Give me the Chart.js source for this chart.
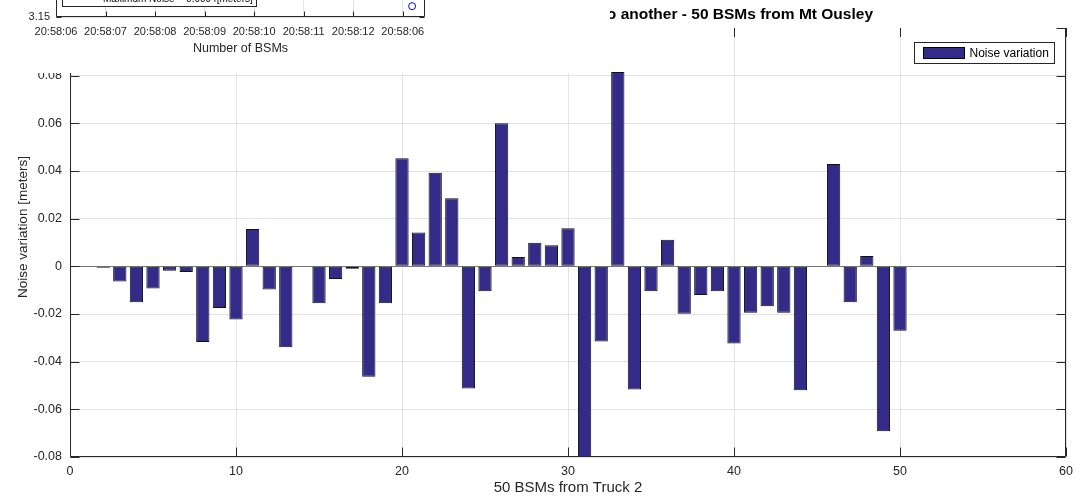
<!DOCTYPE html>
<html>
<head>
<meta charset="utf-8">
<script src="https://cdn.jsdelivr.net/npm/chart.js@4.4.1/dist/chart.umd.min.js"></script>
<style>
  html, body { margin: 0; padding: 0; background: #fff; }
  #wrap { position: relative; width: 1084px; height: 497px; }
  #inset { position: absolute; left: 0; top: 0; width: 610px; height: 73px; overflow: hidden; background: #fff; }
  #c2 { position: absolute; left: 0; top: -226px; }
</style>
</head>
<body>
<div id="wrap">
  <canvas id="c1" width="1084" height="497"></canvas>
  <div id="inset"><canvas id="c2" width="610" height="300"></canvas></div>
</div>
<script>
// main chart data
const bsmIndex = [2, 3, 4, 5, 6, 7, 8, 9, 10, 11, 12, 13, 14, 15, 16, 17, 18, 19, 20, 21, 22, 23, 24, 25, 26,
  27, 28, 29, 30, 31, 32, 33, 34, 35, 36, 37, 38, 39, 40, 41, 42, 43, 44, 45, 46, 47, 48, 49, 50];
const noiseVariation = [-0.0006, -0.0064, -0.0151, -0.0093, -0.0019, -0.0024, -0.0317, -0.0175, -0.0223, 0.0157,
  -0.0097, -0.0340, 0, -0.0155, -0.0053, -0.0010, -0.0463, -0.0155, 0.0454, 0.0142,
  0.0393, 0.0286, -0.0513, -0.0105, 0.0600, 0.0039, 0.0099, 0.0088, 0.0160, -0.0800,
  -0.0315, 0.0815, -0.0517, -0.0105, 0.0112, -0.0199, -0.0120, -0.0105, -0.0324, -0.0195,
  -0.0168, -0.0195, -0.0520, 0, 0.0429, -0.0151, 0.0043, -0.0692, -0.0270];

// the window overlapping the top left corner
const insetTimes = ['20:58:06', '20:58:07', '20:58:08', '20:58:09', '20:58:10', '20:58:11', '20:58:12', '20:58:06'];
const insetX = [7.19];
const insetY = [3.1547];

const FONT = 'Helvetica, Arial, "Liberation Sans", sans-serif';
const AXIS = '#262626';
const GRID = '#e3e3e3';
const BAR = '#342a87';

Chart.defaults.font.family = FONT;
Chart.defaults.color = AXIS;

// box lines + inward ticks, matlab style
const boxAxes = {
  id: 'boxAxes',
  afterDatasetsDraw(chart, args, o) {
    const { ctx, chartArea: a, scales: { x, y } } = chart;
    const len = o.tick;
    ctx.save();
    ctx.strokeStyle = AXIS;
    ctx.lineWidth = 1;
    ctx.beginPath();
    const L = Math.round(a.left) + 0.5, R = Math.round(a.right) - 0.5, B = Math.round(a.bottom) - 0.5;
    ctx.moveTo(L, a.top); ctx.lineTo(L, B); ctx.lineTo(R, B); ctx.lineTo(R, a.top);
    x.ticks.forEach(t => {
      const px = Math.round(x.getPixelForValue(t.value)) + 0.5;
      ctx.moveTo(px, B); ctx.lineTo(px, B - len);
      if (o.top) { ctx.moveTo(px, a.top); ctx.lineTo(px, a.top + len); }
    });
    y.ticks.forEach(t => {
      const py = Math.round(y.getPixelForValue(t.value)) + 0.5;
      ctx.moveTo(L, py); ctx.lineTo(L + len, py);
      ctx.moveTo(R, py); ctx.lineTo(R - len, py);
    });
    ctx.stroke();
    ctx.restore();
  }
};

const titleAndLegend = {
  id: 'titleAndLegend',
  afterDraw(chart) {
    const { ctx, chartArea: a } = chart;
    ctx.save();
    ctx.font = 'bold 15.5px ' + FONT;
    ctx.fillStyle = '#000';
    ctx.textAlign = 'right';
    ctx.textBaseline = 'middle';
    ctx.fillText('Noise variation of the position from one BSM to another - 50 BSMs from Mt Ousley', 873, 15);

    // y label, sits a bit above the axes centre in the original
    ctx.save();
    ctx.translate(23, 227);
    ctx.rotate(-Math.PI / 2);
    ctx.textAlign = 'center';
    ctx.font = '13.5px ' + FONT;
    ctx.fillStyle = AXIS;
    ctx.fillText('Noise variation [meters]', 0, 0);
    ctx.restore();

    // legend inside the axes, top right
    const bw = 140, bh = 21;
    const bx = Math.round(a.right - 12 - bw) + 0.5, by = Math.round(a.top + 14) + 0.5;
    ctx.fillStyle = '#fff';
    ctx.fillRect(bx, by, bw, bh);
    ctx.strokeStyle = AXIS;
    ctx.strokeRect(bx, by, bw, bh);
    ctx.fillStyle = BAR;
    ctx.fillRect(bx + 9, by + 5, 41, 11);
    ctx.strokeStyle = '#000';
    ctx.strokeRect(bx + 9, by + 5, 41, 11);
    ctx.font = '12px ' + FONT;
    ctx.fillStyle = '#000';
    ctx.textAlign = 'left';
    ctx.fillText(chart.data.datasets[0].label, bx + 55, by + bh / 2 + 0.5);
    ctx.restore();
  }
};

new Chart(document.getElementById('c1'), {
  type: 'bar',
  data: {
    datasets: [{
      label: 'Noise variation',
      data: bsmIndex.map((b, i) => ({ x: b, y: noiseVariation[i] })),
      backgroundColor: BAR,
      borderColor: '#111',
      borderWidth: 1,
      borderSkipped: false,
      barPercentage: 0.8,
      categoryPercentage: 1.0
    }]
  },
  options: {
    responsive: false,
    animation: false,
    devicePixelRatio: 1,
    layout: { padding: { left: 10, right: 18, top: 28, bottom: 0 } },
    plugins: { legend: { display: false }, tooltip: { enabled: false }, boxAxes: { tick: 9, top: true } },
    scales: {
      x: {
        type: 'linear', min: 0, max: 60, offset: false,
        grid: { color: GRID, drawTicks: false, offset: false },
        border: { display: false },
        ticks: { stepSize: 10, padding: 7, maxRotation: 0, color: AXIS, font: { size: 12.5 } },
        title: { display: true, text: '50 BSMs from Truck 2', color: AXIS, font: { size: 15 }, padding: { top: 0, bottom: 0 } },
        afterFit(s) { s.height = 40; }
      },
      y: {
        min: -0.08, max: 0.1,
        grid: {
          drawTicks: false,
          color: c => {
            if (!c.tick) return GRID;
            if (Math.abs(c.tick.value) < 1e-9) return '#767676';
            if (c.tick.value > 0.09) return 'rgba(0,0,0,0)';
            return GRID;
          }
        },
        border: { display: false },
        ticks: {
          stepSize: 0.02, padding: 8, color: AXIS, font: { size: 12.5 },
          callback: v => String(parseFloat(v.toFixed(2)))
        },
        afterFit(s) { s.width = 60; }
      }
    }
  },
  plugins: [boxAxes, titleAndLegend]
});

// overlapping figure: only its bottom strip shows
const insetLegend = {
  id: 'insetLegend',
  afterDraw(chart) {
    const { ctx } = chart;
    ctx.save();
    ctx.fillStyle = '#fff';
    ctx.fillRect(62.5, 189.5, 194, 43);
    ctx.strokeStyle = AXIS;
    ctx.strokeRect(62.5, 189.5, 194, 43);
    ctx.font = '10px ' + FONT;
    ctx.fillStyle = '#000';
    ctx.textAlign = 'left';
    ctx.textBaseline = 'alphabetic';
    ctx.fillText('Maximum Noise = 0.0094[meters]', 103, 228);
    ctx.restore();
  }
};

new Chart(document.getElementById('c2'), {
  type: 'scatter',
  data: {
    datasets: [{
      data: insetX.map((v, i) => ({ x: v, y: insetY[i] })),
      pointStyle: 'circle', pointRadius: 3.5,
      borderColor: '#0000ff', backgroundColor: 'rgba(0,0,0,0)', borderWidth: 1
    }]
  },
  options: {
    responsive: false,
    animation: false,
    devicePixelRatio: 1,
    layout: { padding: { left: 0, right: 185, top: 10, bottom: 0 } },
    plugins: { legend: { display: false }, tooltip: { enabled: false }, boxAxes: { tick: 5, top: false } },
    scales: {
      x: {
        type: 'linear', min: 0, max: 7.45,
        grid: { color: GRID, drawTicks: false },
        border: { display: false },
        ticks: {
          stepSize: 1, includeBounds: false, padding: 8, maxRotation: 0, autoSkip: false, color: AXIS, font: { size: 11 },
          callback: v => insetTimes[v] ?? ''
        },
        title: { display: true, text: 'Number of BSMs', color: AXIS, font: { size: 12.5 }, padding: { top: 0, bottom: 17.5 } },
        afterFit(s) { s.height = 57; }
      },
      y: {
        min: 3.15, max: 3.25,
        grid: { color: GRID, drawTicks: false },
        border: { display: false },
        ticks: { stepSize: 0.05, padding: 6, color: AXIS, font: { size: 11 }, callback: v => v.toFixed(2) },
        afterFit(s) { s.width = 56; }
      }
    }
  },
  plugins: [boxAxes, insetLegend]
});
</script>
</body>
</html>
